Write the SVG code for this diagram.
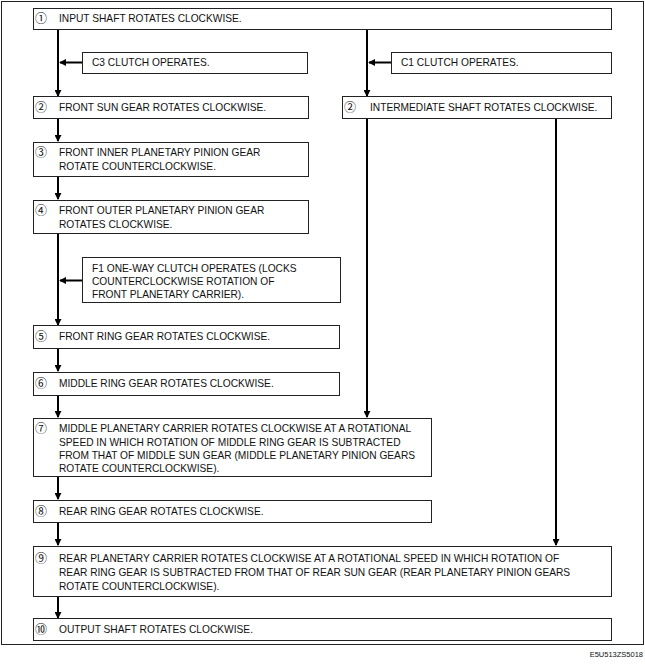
<svg xmlns="http://www.w3.org/2000/svg" width="645" height="664" viewBox="0 0 645 664">
<defs>
<style>
.bx{fill:#fff;stroke:#222;stroke-width:1}
.t{font-family:"Liberation Sans","DejaVu Sans",Arial,sans-serif;font-size:10.2px;fill:#111}
.n{font-family:"Noto Sans CJK JP","Noto Sans CJK SC","DejaVu Sans",sans-serif;font-size:12px;fill:#111}
.c{fill:none;stroke:#000;stroke-width:2}
.code{font-family:"Liberation Sans",Arial,sans-serif;font-size:7.5px;fill:#111}
</style>
<marker id="ah" viewBox="0 0 8 8" refX="7" refY="4" markerWidth="3.5" markerHeight="3.5" orient="auto" markerUnits="strokeWidth">
<path d="M0,0 L8,4 L0,8 Z" fill="#000"/>
</marker>
</defs>
<rect x="1.5" y="1.5" width="642" height="643" fill="#fff" stroke="#222" stroke-width="1"/>
<g id="connectors">
<line class="c" x1="58" y1="29" x2="58" y2="96" marker-end="url(#ah)"/>
<line class="c" x1="82" y1="62.5" x2="60" y2="62.5" marker-end="url(#ah)"/>
<line class="c" x1="367" y1="29" x2="367" y2="96" marker-end="url(#ah)"/>
<line class="c" x1="391" y1="62.5" x2="369" y2="62.5" marker-end="url(#ah)"/>
<line class="c" x1="58" y1="119" x2="58" y2="141" marker-end="url(#ah)"/>
<line class="c" x1="58" y1="177" x2="58" y2="199" marker-end="url(#ah)"/>
<line class="c" x1="58" y1="234" x2="58" y2="325" marker-end="url(#ah)"/>
<line class="c" x1="82" y1="280.5" x2="60" y2="280.5" marker-end="url(#ah)"/>
<line class="c" x1="58" y1="349" x2="58" y2="371" marker-end="url(#ah)"/>
<line class="c" x1="58" y1="396" x2="58" y2="417" marker-end="url(#ah)"/>
<line class="c" x1="58" y1="477" x2="58" y2="499" marker-end="url(#ah)"/>
<line class="c" x1="58" y1="523" x2="58" y2="545" marker-end="url(#ah)"/>
<line class="c" x1="58" y1="597" x2="58" y2="618" marker-end="url(#ah)"/>
<line class="c" x1="367" y1="119" x2="367" y2="417" marker-end="url(#ah)"/>
<line class="c" x1="556" y1="119" x2="556" y2="545" marker-end="url(#ah)"/>
</g>
<g id="n1"><rect class="bx" x="33.5" y="8.5" width="578" height="21"/><text class="n" x="35" y="23">①</text><text class="t" x="59" y="22">INPUT SHAFT ROTATES CLOCKWISE.</text></g>
<g id="c3"><rect class="bx" x="82.5" y="52.5" width="225" height="21"/><text class="t" x="92" y="66">C3 CLUTCH OPERATES.</text></g>
<g id="c1"><rect class="bx" x="391.5" y="52.5" width="220" height="21"/><text class="t" x="401" y="66">C1 CLUTCH OPERATES.</text></g>
<g id="n2a"><rect class="bx" x="33.5" y="96.5" width="275" height="22"/><text class="n" x="35" y="112">②</text><text class="t" x="59" y="111">FRONT SUN GEAR ROTATES CLOCKWISE.</text></g>
<g id="n2b"><rect class="bx" x="342.5" y="96.5" width="269" height="22"/><text class="n" x="344" y="112">②</text><text class="t" x="370" y="111">INTERMEDIATE SHAFT ROTATES CLOCKWISE.</text></g>
<g id="n3"><rect class="bx" x="33.5" y="142.5" width="275" height="34"/><text class="n" x="35" y="157">③</text><text class="t" x="59" y="156">FRONT INNER PLANETARY PINION GEAR</text><text class="t" x="59" y="170">ROTATE COUNTERCLOCKWISE.</text></g>
<g id="n4"><rect class="bx" x="33.5" y="200.5" width="275" height="33"/><text class="n" x="35" y="215">④</text><text class="t" x="59" y="214">FRONT OUTER PLANETARY PINION GEAR</text><text class="t" x="59" y="228">ROTATES CLOCKWISE.</text></g>
<g id="f1"><rect class="bx" x="82.5" y="257.5" width="258" height="45"/><text class="t" x="92" y="272">F1 ONE-WAY CLUTCH OPERATES (LOCKS</text><text class="t" x="92" y="285">COUNTERCLOCKWISE ROTATION OF</text><text class="t" x="92" y="298">FRONT PLANETARY CARRIER).</text></g>
<g id="n5"><rect class="bx" x="33.5" y="325.5" width="306" height="23"/><text class="n" x="35" y="341">⑤</text><text class="t" x="59" y="340">FRONT RING GEAR ROTATES CLOCKWISE.</text></g>
<g id="n6"><rect class="bx" x="33.5" y="372.5" width="306" height="23"/><text class="n" x="35" y="388">⑥</text><text class="t" x="59" y="387">MIDDLE RING GEAR ROTATES CLOCKWISE.</text></g>
<g id="n7"><rect class="bx" x="33.5" y="418.5" width="398" height="58"/><text class="n" x="35" y="433">⑦</text><text class="t" x="59" y="432">MIDDLE PLANETARY CARRIER ROTATES CLOCKWISE AT A ROTATIONAL</text><text class="t" x="59" y="446">SPEED IN WHICH ROTATION OF MIDDLE RING GEAR IS SUBTRACTED</text><text class="t" x="59" y="459">FROM THAT OF MIDDLE SUN GEAR (MIDDLE PLANETARY PINION GEARS</text><text class="t" x="59" y="472">ROTATE COUNTERCLOCKWISE).</text></g>
<g id="n8"><rect class="bx" x="33.5" y="500.5" width="398" height="22"/><text class="n" x="35" y="516">⑧</text><text class="t" x="59" y="515">REAR RING GEAR ROTATES CLOCKWISE.</text></g>
<g id="n9"><rect class="bx" x="33.5" y="546.5" width="578" height="50"/><text class="n" x="35" y="563">⑨</text><text class="t" x="59" y="562">REAR PLANETARY CARRIER ROTATES CLOCKWISE AT A ROTATIONAL SPEED IN WHICH ROTATION OF</text><text class="t" x="59" y="576">REAR RING GEAR IS SUBTRACTED FROM THAT OF REAR SUN GEAR (REAR PLANETARY PINION GEARS</text><text class="t" x="59" y="590">ROTATE COUNTERCLOCKWISE).</text></g>
<g id="n10"><rect class="bx" x="33.5" y="618.5" width="578" height="22"/><text class="n" x="35" y="634">⑩</text><text class="t" x="59" y="633">OUTPUT SHAFT ROTATES CLOCKWISE.</text></g>
<text class="code" x="643" y="657" text-anchor="end">E5U513ZS5018</text>
</svg>
